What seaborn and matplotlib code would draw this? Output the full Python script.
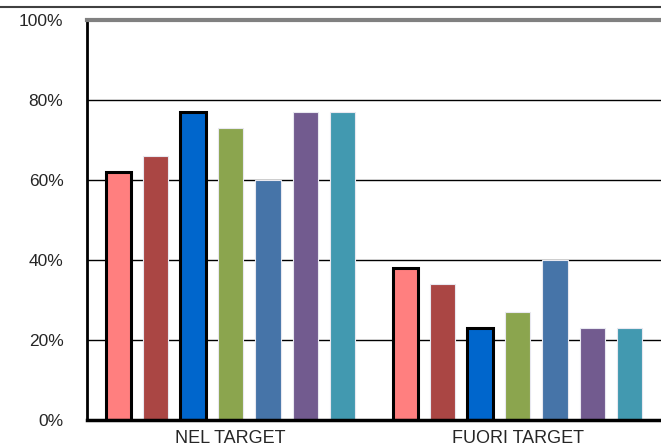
import numpy as np
import pandas as pd
import matplotlib
matplotlib.use("Agg")
import matplotlib.pyplot as plt
from matplotlib.lines import Line2D
from matplotlib.ticker import PercentFormatter
import seaborn as sns

# dati
gruppi = ["NEL TARGET", "FUORI TARGET"]
serie = ["S1", "S2", "S3", "S4", "S5", "S6", "S7"]
nel_target = [62, 66, 77, 73, 60, 77, 77]
fuori_target = [38, 34, 23, 27, 40, 23, 23]
colori = ["#FF7F7F", "#AA4644", "#0066CC", "#8BA54E", "#4674A8", "#725B8F", "#4299B0"]
bordo_nero = ["S1", "S3"]

df = pd.DataFrame({
    "gruppo": [gruppi[0]] * len(serie) + [gruppi[1]] * len(serie),
    "serie": serie + serie,
    "valore": nel_target + fuori_target,
})

sns.set_style("white")
plt.rcParams["font.family"] = ["Liberation Sans", "DejaVu Sans"]

fig = plt.figure(figsize=(6.61, 4.47), dpi=100)
ax = fig.add_axes([87 / 661, 27 / 447, 1 - 87 / 661, 400 / 447])

sns.barplot(data=df, x="gruppo", y="valore", hue="serie", order=gruppi,
            hue_order=serie, palette=colori, width=0.914, gap=0.33,
            legend=False, ax=ax, saturation=1)

# bordi: nero spesso per S1 e S3, chiaro per le altre
for i, cont in enumerate(ax.containers):
    for bar in cont:
        if serie[i] in bordo_nero:
            bar.set_edgecolor("black")
            bar.set_linewidth(2.2)
        else:
            bar.set_edgecolor("#e8e8f0")
            bar.set_linewidth(0.8)
        bar.set_zorder(3)

ax.set_ylim(0, 100)
ax.set_xlim(-0.5, 1.5)
ax.set_yticks([0, 20, 40, 60, 80, 100])
ax.yaxis.set_major_formatter(PercentFormatter(decimals=0))
ax.set_xlabel("")
ax.set_ylabel("")

ax.grid(axis="y", color="black", linewidth=1, zorder=0)
ax.set_axisbelow(True)

ax.spines["right"].set_visible(False)
ax.spines["top"].set_color("#808080")
ax.spines["top"].set_linewidth(3)
ax.spines["left"].set_color("black")
ax.spines["left"].set_linewidth(2)
ax.spines["bottom"].set_color("black")
ax.spines["bottom"].set_linewidth(2.5)
ax.spines["bottom"].set_zorder(5)

ax.tick_params(axis="y", which="major", direction="out", length=5, width=1,
               color="black", pad=12, labelsize=12.5)
ax.tick_params(axis="x", which="major", length=0, pad=7, labelsize=13)
ax.set_xticks([0.5], minor=True)
ax.tick_params(axis="x", which="minor", direction="out", length=22, width=1.2,
               color="black")

# linea in alto sull'intera figura
fig.add_artist(Line2D([0, 1], [1 - 7 / 447, 1 - 7 / 447], transform=fig.transFigure,
                      color="#404040", linewidth=1.5))

fig.savefig("out.png", dpi=100)
